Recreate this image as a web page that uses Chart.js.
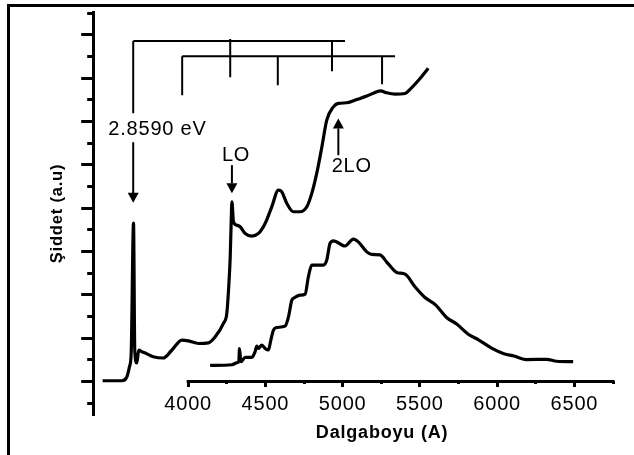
<!DOCTYPE html>
<html>
<head>
<meta charset="utf-8">
<script src="https://cdn.jsdelivr.net/npm/chart.js@4.4.1/dist/chart.umd.min.js"></script>
<style>
  html, body { margin: 0; padding: 0; background: #fff; }
  #wrap { position: relative; width: 634px; height: 455px; overflow: hidden; }
  canvas { display: block; }
  #frame { position: absolute; left: 7px; top: 4px; right: -10px; bottom: -10px;
           border-top: 3px solid #000; border-left: 3px solid #000; pointer-events: none; }
</style>
</head>
<body>
<div id="wrap">
  <canvas id="spectrum" width="634" height="455"></canvas>
  <div id="frame"></div>
</div>
<script>
// upper trace (wavelength in A, intensity a.u.)
const upperX = [3446, 3571, 3603, 3620, 3631, 3646, 3654, 3667, 3680, 3700,
    3722, 3774, 3838, 3895, 3959, 4002, 4067, 4131, 4175, 4228,
    4250, 4261, 4272, 4278, 4283, 4293, 4315, 4336, 4369, 4412,
    4455, 4498, 4541, 4584, 4606, 4638, 4681, 4724, 4768, 4800,
    4832, 4865, 4897, 4940, 4972, 5027, 5091, 5156, 5210, 5246,
    5285, 5339, 5404, 5436, 5501, 5554]
const upperY = [1.03, 1.03, 1.21, 1.68, 2.31, 8.31, 2.45, 1.85, 2.45, 2.37,
    2.31, 2.14, 2.08, 2.45, 2.91, 2.87, 2.75, 2.78, 3.06, 3.68,
    4.14, 5.21, 6.75, 8.29, 9.29, 8.37, 8.21, 8.14, 7.83, 7.71,
    7.83, 8.29, 9.06, 9.83, 9.75, 9.22, 8.83, 8.83, 9.06, 9.68,
    10.6, 11.81, 13.06, 13.67, 13.83, 13.86, 14.01, 14.17, 14.34, 14.41,
    14.32, 14.26, 14.29, 14.48, 14.98, 15.45]

// lower trace
const lowerX = [4142, 4283, 4315, 4328, 4332, 4341, 4369, 4412, 4433, 4444,
    4455, 4477, 4498, 4519, 4535, 4552, 4574, 4627, 4649, 4671,
    4692, 4724, 4757, 4778, 4800, 4832, 4875, 4897, 4918, 4940,
    5015, 5069, 5101, 5156, 5188, 5242, 5285, 5350, 5404, 5468,
    5533, 5603, 5673, 5738, 5813, 5882, 5964, 6044, 6109, 6185,
    6320, 6385, 6492]
const lowerY = [1.74, 1.77, 1.86, 1.94, 2.52, 1.91, 2.11, 2.11, 2.37, 2.63,
    2.52, 2.68, 2.52, 2.45, 2.91, 3.37, 3.49, 3.55, 3.98, 4.75,
    4.88, 4.98, 5.03, 5.83, 6.37, 6.37, 6.37, 6.6, 7.37, 7.49,
    7.25, 7.57, 7.44, 6.98, 6.86, 6.84, 6.51, 6.03, 5.95, 5.37,
    4.87, 4.52, 3.95, 3.65, 3.18, 2.91, 2.54, 2.28, 2.17, 2.01,
    2.02, 1.93, 1.91]

// phonon replica combs (tooth wavelengths)
const combTopTeeth = [3644, 4272, 4931]
const combTopEnd = 5015
const combLowTeeth = [3961, 4580, 5255]
const combLowEnd = 5339

// axis ticks
const xTickValues = [4000, 4250, 4500, 4750, 5000, 5250, 5500, 5750, 6000, 6250, 6500, 6750]
const xTickLabels = ['4000', '', '4500', '', '5000', '', '5500', '', '6000', '', '6500', '']
const yTickValues = [0, 1, 2, 3, 4, 5, 6, 7, 8, 9, 10, 11, 12, 13, 14, 15, 16, 17, 18]

const FONT = '"Liberation Sans", Arial, sans-serif'
const SPACING = '0.8px'

// comb geometry (y levels in a.u.)
const combStyle = {
    topLevel: 16.71, lowLevel: 16.01,
    topTeethEnd: [13.38, 15.04, 15.32], topTeethStart: [16.71, 16.8, 16.71],
    lowTeethEnd: [14.21, 14.67, 14.72],
    gapBelow: 12.04, arrowBase: 9.69
}

function combPoints(){
    let pts = []
    const gap = (x) => pts.push({x: x, y: null})
    pts.push({x: combTopTeeth[0], y: combStyle.topLevel}, {x: combTopEnd, y: combStyle.topLevel}); gap(combTopEnd)
    combTopTeeth.forEach((t, i) => {
        pts.push({x: t, y: combStyle.topTeethStart[i]}, {x: t, y: combStyle.topTeethEnd[i]}); gap(t)
    })
    // long line of first tooth continues below the label
    pts.push({x: combTopTeeth[0], y: combStyle.gapBelow}, {x: combTopTeeth[0], y: combStyle.arrowBase}); gap(combTopTeeth[0])
    pts.push({x: combLowTeeth[0], y: combStyle.lowLevel}, {x: combLowEnd, y: combStyle.lowLevel}); gap(combLowEnd)
    combLowTeeth.forEach((t, i) => {
        pts.push({x: t, y: combStyle.lowLevel}, {x: t, y: combStyle.lowTeethEnd[i]}); gap(t)
    })
    return pts
}

const arrows = [
    {x: 3644, from: 9.69, to: 9.25},
    {x: 4283, from: 10.98, to: 9.68},
    {x: 4972, from: 11.44, to: 13.14},
]
const labels = [
    {text: '2.8590 eV', x: 3801, y: 12.37, font: '20px ' + FONT},
    {text: 'LO', x: 4310, y: 11.19, font: '20px ' + FONT},
    {text: '2LO', x: 5059, y: 10.68, font: '20px ' + FONT},
    {text: 'Dalgaboyu (A)', x: 5255, y: -1.615, font: 'bold 18px ' + FONT},
]

const spacingPlugin = {
    id: 'spacing',
    beforeLayout(chart){ chart.ctx.letterSpacing = SPACING },
    beforeDraw(chart){ chart.ctx.letterSpacing = SPACING }
}

const annotatePlugin = {
    id: 'annotate',
    afterDraw(chart){
        const ctx = chart.ctx
        const xs = chart.scales.x, ys = chart.scales.y
        ctx.save()
        // x axis line only over the labelled range
        ctx.strokeStyle = '#000'
        ctx.lineWidth = 3
        ctx.beginPath()
        const ay = ys.getPixelForValue(1)
        ctx.moveTo(xs.getPixelForValue(xTickValues[0]) - 1.5, ay)
        ctx.lineTo(xs.getPixelForValue(xTickValues[xTickValues.length - 1]) + 1.5, ay)
        ctx.stroke()
        // arrows
        ctx.lineWidth = 2
        ctx.fillStyle = '#000'
        arrows.forEach(a => {
            const px = xs.getPixelForValue(a.x)
            const y0 = ys.getPixelForValue(a.from)
            const y1 = ys.getPixelForValue(a.to)
            const dir = y1 > y0 ? 1 : -1
            const head = 10
            ctx.beginPath()
            ctx.moveTo(px, y0)
            ctx.lineTo(px, y1 - dir * head)
            ctx.stroke()
            ctx.beginPath()
            ctx.moveTo(px, y1)
            ctx.lineTo(px - 5.5, y1 - dir * head)
            ctx.lineTo(px + 5.5, y1 - dir * head)
            ctx.closePath()
            ctx.fill()
        })
        // text labels
        ctx.letterSpacing = SPACING
        ctx.textAlign = 'center'
        ctx.textBaseline = 'alphabetic'
        labels.forEach(l => {
            ctx.font = l.font
            ctx.fillText(l.text, xs.getPixelForValue(l.x), ys.getPixelForValue(l.y))
        })
        ctx.restore()
    }
}

const config = {
    type: 'line',
    data: {
        datasets: [
            {
                label: 'upper',
                data: upperX.map((x, i) => ({x: x, y: upperY[i]})),
                borderColor: '#000', borderWidth: 3.2, pointRadius: 0,
                cubicInterpolationMode: 'monotone', borderJoinStyle: 'round'
            },
            {
                label: 'lower',
                data: lowerX.map((x, i) => ({x: x, y: lowerY[i]})),
                borderColor: '#000', borderWidth: 3.2, pointRadius: 0,
                cubicInterpolationMode: 'monotone', borderJoinStyle: 'round'
            },
            {
                label: 'combs',
                data: combPoints(),
                borderColor: '#000', borderWidth: 2, pointRadius: 0, tension: 0, spanGaps: false
            }
        ]
    },
    options: {
        responsive: false,
        animation: false,
        devicePixelRatio: 1,
        layout: {padding: {left: 47.4, right: 21, top: 12, bottom: 40}},
        plugins: {legend: {display: false}, tooltip: {enabled: false}},
        scales: {
            x: {
                type: 'linear',
                min: 3385, max: 6750,
                position: {y: 1},
                afterBuildTicks: (s) => { s.ticks = xTickValues.map(v => ({value: v})) },
                border: {display: false},
                grid: {
                    drawOnChartArea: false, tickLength: 6, tickWidth: 3, tickColor: '#000',
                    tickBorderDash: (c) => (c.tick && c.index % 2 === 1) ? [3, 100] : []
                },
                ticks: {
                    color: '#000', padding: 5, maxRotation: 0, autoSkip: false,
                    font: {family: FONT, size: 20},
                    callback: (v, i) => xTickLabels[i]
                }
            },
            y: {
                min: -0.55, max: 18.05,
                afterBuildTicks: (s) => { s.ticks = yTickValues.map(v => ({value: v})) },
                border: {display: true, width: 3, color: '#000'},
                grid: {
                    drawOnChartArea: false, tickLength: 12, tickWidth: 3, tickColor: '#000',
                    tickBorderDash: (c) => (c.tick && c.tick.value % 2 === 0) ? [0, 6, 6, 100] : []
                },
                ticks: {display: false},
                title: {
                    display: true, text: 'Şiddet (a.u)', color: '#000',
                    font: {family: FONT, size: 16.5, weight: 'bold'},
                    padding: {top: 0, bottom: 14}
                }
            }
        }
    },
    plugins: [spacingPlugin, annotatePlugin]
}

new Chart(document.getElementById('spectrum'), config)
</script>
</body>
</html>
